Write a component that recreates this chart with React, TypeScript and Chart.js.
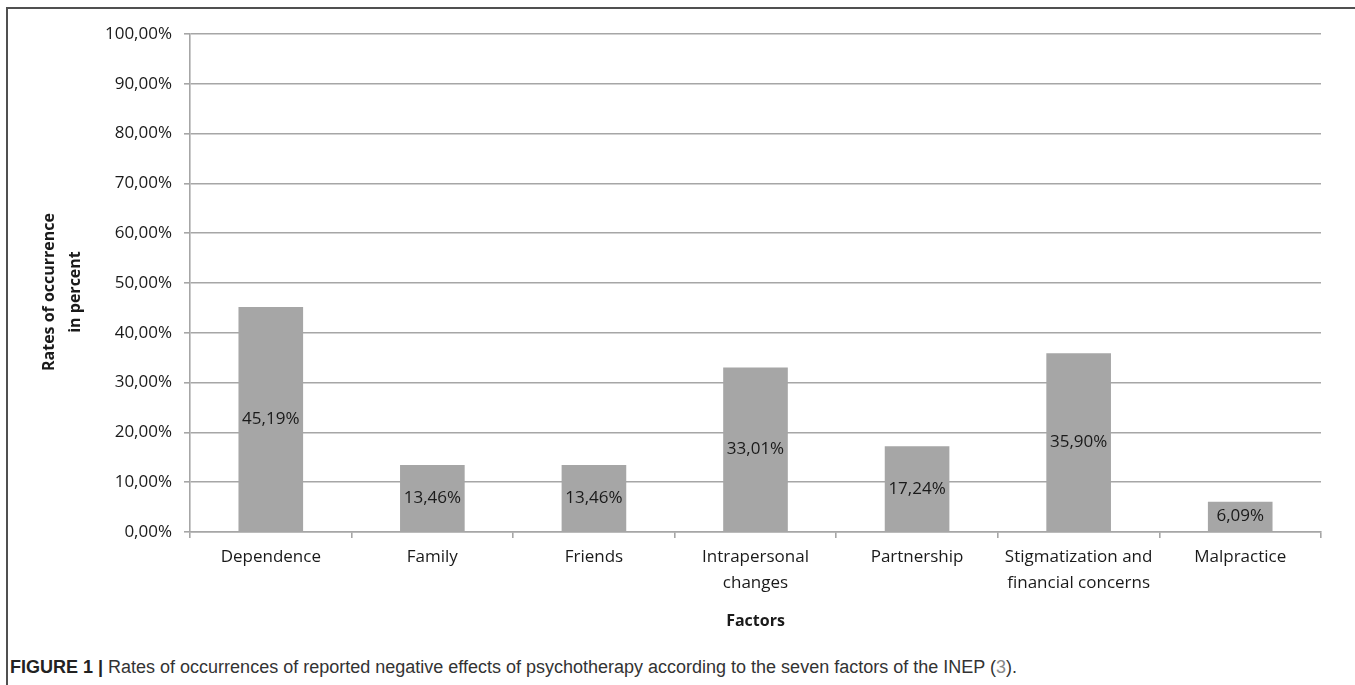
import React, { useEffect, useRef } from "react";
import { Chart, registerables } from "chart.js";

Chart.register(...registerables);

const categories: (string | string[])[] = [
  "Dependence",
  "Family",
  "Friends",
  ["Intrapersonal", "changes"],
  "Partnership",
  ["Stigmatization and", "financial concerns"],
  "Malpractice",
];
const rates: number[] = [45.19, 13.46, 13.46, 33.01, 17.24, 35.9, 6.09];
const yMin = 0;
const yMax = 100;
const yStep = 10;
const yTitleLines: string[] = ["Rates of occurrence", "in percent"];
const xTitle = "Factors";

const FONT = "'Open Sans', 'Noto Sans', sans-serif";
const GRID = "#a6a6a6";
const TEXT = "#1a1a1a";

const fmt = (v: number) => v.toFixed(2).replace(".", ",") + "%";

const barLabels = {
  id: "barLabels",
  afterDatasetsDraw(chart: any) {
    const ctx = chart.ctx;
    const meta = chart.getDatasetMeta(0);
    ctx.save();
    ctx.font = `17px ${FONT}`;
    ctx.fillStyle = TEXT;
    ctx.textAlign = "center";
    ctx.textBaseline = "middle";
    meta.data.forEach((el: any, i: number) => {
      const p = el.getProps(["x", "y", "base"], true);
      ctx.fillText(fmt(rates[i]), p.x, (p.y + p.base) / 2);
    });
    ctx.restore();
  },
};

const yTitle = {
  id: "yTitle",
  afterDraw(chart: any) {
    const s = chart.scales.y;
    const ctx = chart.ctx;
    ctx.save();
    ctx.font = `bold 16px ${FONT}`;
    ctx.fillStyle = TEXT;
    ctx.textAlign = "center";
    ctx.textBaseline = "middle";
    ctx.translate(s.left + 49, (s.top + s.bottom) / 2 + 9);
    ctx.rotate(-Math.PI / 2);
    yTitleLines.forEach((line, i) => ctx.fillText(line, 0, i * 26));
    ctx.restore();
  },
};

export default function App() {
  const ref = useRef<HTMLCanvasElement | null>(null);

  useEffect(() => {
    if (!ref.current) return;
    const chart = new Chart(ref.current, {
      type: "bar",
      data: {
        labels: categories,
        datasets: [
          {
            data: rates,
            backgroundColor: "#a6a6a6",
            borderWidth: 0,
            barPercentage: 0.4,
            categoryPercentage: 1,
          },
        ],
      },
      options: {
        animation: false,
        responsive: false,
        devicePixelRatio: 1,
        layout: { padding: { left: 0, right: 34, top: 34, bottom: 6 } },
        plugins: {
          legend: { display: false },
          tooltip: { enabled: false },
        },
        scales: {
          x: {
            type: "category",
            offset: true,
            grid: {
              display: true,
              offset: true,
              drawOnChartArea: false,
              drawTicks: true,
              tickLength: 6,
              color: GRID,
              lineWidth: 1.6,
            },
            border: { display: true, color: GRID, width: 1.6 },
            ticks: {
              font: { family: FONT, size: 17, lineHeight: 26 / 17 },
              color: TEXT,
              padding: 6,
              maxRotation: 0,
              autoSkip: false,
            },
            title: {
              display: true,
              text: xTitle,
              font: { family: FONT, size: 16, weight: "bold", lineHeight: 26 / 16 },
              color: TEXT,
              padding: 0,
            },
            afterFit: (s: any) => {
              s.height = 102;
            },
          },
          y: {
            min: yMin,
            max: yMax,
            ticks: {
              stepSize: yStep,
              callback: (v: any) => fmt(Number(v)),
              font: { family: FONT, size: 17 },
              color: TEXT,
              padding: 12,
            },
            grid: {
              color: GRID,
              lineWidth: 1.6,
              drawTicks: true,
              tickLength: 6,
            },
            border: { display: true, color: GRID, width: 1.6 },
            afterFit: (s: any) => {
              s.width = 190;
            },
          },
        },
      },
      plugins: [barLabels, yTitle],
    } as any);
    return () => chart.destroy();
  }, []);

  return (
    <div style={{ position: "absolute", left: 0, top: 0, width: 1355, height: 685, background: "#fff", overflow: "hidden" }}>
      <div
        style={{
          position: "absolute",
          left: 6,
          top: 7,
          width: 1355,
          height: 690,
          borderTop: "2px solid #505050",
          borderLeft: "2px solid #505050",
        }}
      />
      <canvas
        ref={ref}
        width={1355}
        height={640}
        style={{ position: "absolute", left: 0, top: 0, width: 1355, height: 640 }}
      />
      <div
        style={{
          position: "absolute",
          left: 10,
          top: 656,
          whiteSpace: "nowrap",
          fontFamily: "'Liberation Sans', Arial, sans-serif",
          fontSize: 18,
          lineHeight: "22px",
          color: "#333",
        }}
      >
        <span style={{ fontWeight: "bold", color: "#222" }}>FIGURE 1 | </span>
        Rates of occurrences of reported negative effects of psychotherapy according to the seven factors of the INEP (
        <span style={{ color: "#888" }}>3</span>).
      </div>
    </div>
  );
}
